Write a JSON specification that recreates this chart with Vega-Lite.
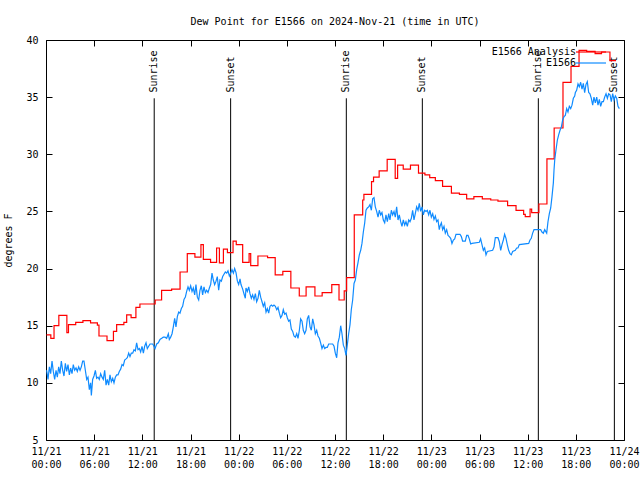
{
  "$schema": "https://vega.github.io/schema/vega-lite/v6.json",
  "width": 578,
  "height": 400,
  "autosize": {"type": "none"},
  "padding": {"left": 46, "top": 40, "right": 16, "bottom": 40},
  "background": "white",
  "view": {"stroke": "black", "strokeWidth": 1},
  "config": {
    "font": "DejaVu Sans Mono",
    "axis": {"labelFont": "DejaVu Sans Mono", "labelFontSize": 10, "labelColor": "black", "titleFont": "DejaVu Sans Mono", "titleFontSize": 10, "titleFontWeight": "normal", "titleColor": "black", "grid": false, "domain": false, "tickColor": "black"}
  },
  "title": {"text": "Dew Point for E1566 on 2024-Nov-21 (time in UTC)", "font": "DejaVu Sans Mono", "fontSize": 10, "fontWeight": "normal", "color": "black", "baseline": "alphabetic", "offset": 0},
  "datasets": {
    "sun": [
      {"h": 13.48, "event": "Sunrise"}, {"h": 23.0, "event": "Sunset"},
      {"h": 37.41, "event": "Sunrise"}, {"h": 46.88, "event": "Sunset"},
      {"h": 61.33, "event": "Sunrise"}, {"h": 70.8, "event": "Sunset"}
    ],
    "analysis": [
      {"h":0.05,"v":14.2},{"h":0.6,"v":13.9},{"h":1.0,"v":15.0},{"h":1.6,"v":15.9},{"h":2.6,"v":14.4},{"h":2.8,"v":15.1},{"h":3.7,"v":15.3},{"h":4.6,"v":15.45},{"h":5.55,"v":15.25},{"h":6.4,"v":15.05},{"h":6.6,"v":14.1},{"h":7.6,"v":13.7},{"h":8.4,"v":14.5},{"h":8.8,"v":15.1},{"h":9.7,"v":15.3},{"h":10.05,"v":15.95},{"h":10.6,"v":15.7},{"h":11.2,"v":16.6},{"h":11.7,"v":16.9},{"h":13.6,"v":17.25},{"h":14.4,"v":18.1},{"h":15.65,"v":18.2},{"h":16.7,"v":19.7},{"h":17.6,"v":21.3},{"h":18.55,"v":21.0},{"h":19.3,"v":22.1},{"h":19.6,"v":20.8},{"h":20.5,"v":20.55},{"h":21.25,"v":21.8},{"h":21.6,"v":20.5},{"h":22.1,"v":21.7},{"h":22.6,"v":21.4},{"h":23.3,"v":22.4},{"h":23.7,"v":22.1},{"h":24.5,"v":20.55},{"h":25.3,"v":21.3},{"h":25.5,"v":20.25},{"h":26.4,"v":21.1},{"h":27.6,"v":20.95},{"h":28.55,"v":19.45},{"h":29.5,"v":19.75},{"h":30.5,"v":18.3},{"h":31.55,"v":17.6},{"h":32.4,"v":18.4},{"h":33.5,"v":17.6},{"h":34.4,"v":17.9},{"h":35.6,"v":18.6},{"h":36.5,"v":17.25},{"h":37.15,"v":18.05},{"h":37.45,"v":19.2},{"h":38.4,"v":24.7},{"h":39.45,"v":26.0},{"h":39.6,"v":26.5},{"h":40.55,"v":27.6},{"h":40.8,"v":28.0},{"h":41.5,"v":28.55},{"h":42.5,"v":29.55},{"h":43.5,"v":27.9},{"h":43.8,"v":29.05},{"h":44.5,"v":28.7},{"h":45.4,"v":29.05},{"h":46.4,"v":28.35},{"h":47.2,"v":28.2},{"h":47.8,"v":27.95},{"h":48.5,"v":27.7},{"h":49.4,"v":27.2},{"h":50.5,"v":26.6},{"h":51.5,"v":26.5},{"h":52.4,"v":26.1},{"h":53.3,"v":26.3},{"h":54.35,"v":26.1},{"h":55.4,"v":26.0},{"h":56.3,"v":25.9},{"h":57.5,"v":25.5},{"h":58.55,"v":25.1},{"h":59.5,"v":24.75},{"h":59.7,"v":24.55},{"h":60.3,"v":25.2},{"h":60.5,"v":24.9},{"h":61.4,"v":25.65},{"h":62.4,"v":29.6},{"h":63.3,"v":32.3},{"h":64.4,"v":36.3},{"h":65.4,"v":37.7},{"h":66.4,"v":39.1},{"h":67.35,"v":39.0},{"h":68.4,"v":38.8},{"h":69.2,"v":38.95},{"h":70.25,"v":38.2},{"h":71.0,"v":38.2}
    ],
    "obs": [
      {"h":0.08,"v":11.1},{"h":0.25,"v":10.3},{"h":0.42,"v":11.4},{"h":0.58,"v":10.8},{"h":0.75,"v":11.9},{"h":0.91,"v":11.0},{"h":1.08,"v":10.3},{"h":1.25,"v":11.1},{"h":1.41,"v":10.5},{"h":1.58,"v":11.4},{"h":1.74,"v":10.8},{"h":1.91,"v":11.9},{"h":2.08,"v":11.1},{"h":2.24,"v":10.6},{"h":2.41,"v":11.7},{"h":2.57,"v":11.0},{"h":2.74,"v":11.6},{"h":2.91,"v":10.7},{"h":3.07,"v":11.3},{"h":3.24,"v":10.8},{"h":3.40,"v":11.6},{"h":3.57,"v":11.1},{"h":3.74,"v":11.3},{"h":3.90,"v":11.0},{"h":4.07,"v":11.4},{"h":4.24,"v":11.1},{"h":4.40,"v":11.4},{"h":4.57,"v":11.9},{"h":4.73,"v":11.9},{"h":4.90,"v":11.1},{"h":5.07,"v":10.3},{"h":5.23,"v":10.5},{"h":5.40,"v":9.4},{"h":5.56,"v":10.0},{"h":5.65,"v":8.9},{"h":5.81,"v":10.3},{"h":5.98,"v":10.6},{"h":6.15,"v":11.1},{"h":6.31,"v":10.4},{"h":6.48,"v":10.5},{"h":6.64,"v":10.3},{"h":6.81,"v":10.8},{"h":6.98,"v":10.5},{"h":7.14,"v":10.3},{"h":7.31,"v":11.1},{"h":7.48,"v":9.8},{"h":7.64,"v":10.3},{"h":7.81,"v":9.8},{"h":7.97,"v":10.7},{"h":8.14,"v":10.1},{"h":8.31,"v":10.4},{"h":8.47,"v":10.0},{"h":8.64,"v":10.5},{"h":8.80,"v":10.7},{"h":8.97,"v":10.7},{"h":9.13,"v":11.0},{"h":9.30,"v":11.2},{"h":9.47,"v":11.6},{"h":9.63,"v":11.5},{"h":9.80,"v":12.0},{"h":9.97,"v":12.1},{"h":10.13,"v":12.2},{"h":10.30,"v":12.6},{"h":10.46,"v":12.3},{"h":10.63,"v":12.6},{"h":10.80,"v":12.6},{"h":10.96,"v":12.9},{"h":11.13,"v":12.8},{"h":11.29,"v":13.5},{"h":11.46,"v":12.9},{"h":11.63,"v":13.0},{"h":11.79,"v":12.7},{"h":11.96,"v":13.2},{"h":12.13,"v":12.6},{"h":12.29,"v":13.2},{"h":12.46,"v":13.5},{"h":12.62,"v":13.0},{"h":12.79,"v":13.2},{"h":12.96,"v":13.4},{"h":13.12,"v":13.4},{"h":13.29,"v":13.4},{"h":13.45,"v":13.2},
      {"h":13.58,"v":13.0},{"h":13.79,"v":13.4},{"h":13.99,"v":13.5},{"h":14.20,"v":13.8},{"h":14.41,"v":13.9},{"h":14.61,"v":14.0},{"h":14.82,"v":14.0},{"h":15.03,"v":13.9},{"h":15.24,"v":14.3},{"h":15.36,"v":13.8},{"h":15.53,"v":14.0},{"h":15.70,"v":14.3},{"h":15.86,"v":14.9},{"h":16.03,"v":15.65},{"h":16.19,"v":14.9},{"h":16.36,"v":15.8},{"h":16.53,"v":16.2},{"h":16.69,"v":16.1},{"h":16.86,"v":16.5},{"h":17.02,"v":16.7},{"h":17.19,"v":17.3},{"h":17.36,"v":17.5},{"h":17.52,"v":18.0},{"h":17.69,"v":18.4},{"h":17.85,"v":18.1},{"h":18.02,"v":18.5},{"h":18.19,"v":18.0},{"h":18.35,"v":18.3},{"h":18.52,"v":17.7},{"h":18.68,"v":18.6},{"h":18.85,"v":17.5},{"h":19.02,"v":17.25},{"h":19.18,"v":18.1},{"h":19.35,"v":18.5},{"h":19.51,"v":17.7},{"h":19.68,"v":18.4},{"h":19.85,"v":17.9},{"h":20.01,"v":18.1},{"h":20.18,"v":17.9},{"h":20.35,"v":18.3},{"h":20.51,"v":18.6},{"h":20.68,"v":19.6},{"h":20.84,"v":19.0},{"h":21.01,"v":18.6},{"h":21.18,"v":18.9},{"h":21.34,"v":19.3},{"h":21.51,"v":18.1},{"h":21.67,"v":19.0},{"h":21.84,"v":18.9},{"h":22.01,"v":19.3},{"h":22.17,"v":19.5},{"h":22.34,"v":19.7},{"h":22.51,"v":19.6},{"h":22.67,"v":19.8},{"h":22.84,"v":19.35},{"h":23.00,"v":19.6},{"h":23.17,"v":19.9},{"h":23.34,"v":19.6},{"h":23.50,"v":20.0},{"h":23.67,"v":19.65},{"h":23.84,"v":18.9},{"h":24.00,"v":18.6},{"h":24.17,"v":19.1},
      {"h":24.29,"v":18.6},{"h":24.50,"v":18.2},{"h":24.66,"v":17.8},{"h":24.83,"v":17.4},{"h":24.91,"v":18.3},{"h":25.08,"v":18.0},{"h":25.25,"v":18.4},{"h":25.41,"v":17.8},{"h":25.58,"v":17.4},{"h":25.74,"v":17.7},{"h":25.91,"v":17.3},{"h":26.08,"v":17.8},{"h":26.24,"v":17.1},{"h":26.41,"v":17.4},{"h":26.57,"v":18.1},{"h":26.74,"v":17.5},{"h":26.91,"v":17.1},{"h":27.07,"v":16.7},{"h":27.24,"v":17.0},{"h":27.41,"v":16.2},{"h":27.57,"v":16.5},{"h":27.74,"v":16.1},{"h":27.90,"v":16.7},{"h":28.07,"v":16.8},{"h":28.24,"v":16.7},{"h":28.40,"v":16.8},{"h":28.57,"v":16.7},{"h":28.74,"v":16.4},{"h":28.90,"v":16.6},{"h":29.07,"v":16.1},{"h":29.23,"v":15.7},{"h":29.40,"v":15.9},{"h":29.56,"v":16.4},{"h":29.73,"v":16.0},{"h":29.90,"v":16.1},{"h":30.06,"v":15.7},{"h":30.23,"v":15.4},{"h":30.39,"v":15.5},{"h":30.56,"v":14.7},{"h":30.73,"v":14.5},{"h":30.89,"v":14.1},{"h":31.06,"v":14.0},{"h":31.23,"v":14.3},{"h":31.39,"v":13.9},{"h":31.56,"v":14.6},{"h":31.72,"v":15.6},{"h":31.89,"v":15.4},{"h":32.05,"v":14.6},{"h":32.22,"v":14.3},{"h":32.39,"v":14.6},{"h":32.55,"v":15.6},{"h":32.72,"v":15.9},{"h":32.89,"v":14.9},{"h":33.05,"v":14.6},{"h":33.22,"v":15.6},{"h":33.38,"v":15.1},{"h":33.55,"v":14.3},{"h":33.72,"v":14.6},{"h":33.88,"v":14.1},{"h":34.05,"v":13.9},{"h":34.21,"v":13.5},{"h":34.38,"v":13.0},{"h":34.55,"v":13.3},{"h":34.71,"v":13.0},{"h":34.88,"v":13.1},{"h":35.04,"v":13.1},{"h":35.21,"v":13.4},{"h":35.38,"v":13.4},{"h":35.54,"v":13.4},{"h":35.71,"v":13.4},{"h":35.88,"v":13.2},{"h":36.04,"v":12.6},{"h":36.21,"v":12.2},{"h":36.37,"v":13.5},{"h":36.54,"v":14.0},{"h":36.71,"v":15.0},{"h":36.87,"v":14.3},{"h":37.04,"v":13.3},{"h":37.21,"v":13.0},{"h":37.37,"v":12.4},{"h":37.53,"v":13.3},{"h":37.70,"v":14.3},{"h":37.87,"v":15.1},{"h":38.03,"v":16.4},
      {"h":38.20,"v":17.25},{"h":38.37,"v":18.7},{"h":38.53,"v":19.0},{"h":38.70,"v":19.9},{"h":38.86,"v":20.5},{"h":39.03,"v":21.2},{"h":39.20,"v":21.6},{"h":39.36,"v":22.2},{"h":39.53,"v":23.2},{"h":39.70,"v":24.0},{"h":39.86,"v":25.1},{"h":40.03,"v":25.3},{"h":40.19,"v":25.4},{"h":40.36,"v":25.6},{"h":40.53,"v":25.1},{"h":40.69,"v":26.1},{"h":40.86,"v":26.2},{"h":41.02,"v":25.4},{"h":41.19,"v":25.0},{"h":41.36,"v":24.5},{"h":41.52,"v":25.1},{"h":41.69,"v":24.7},{"h":41.85,"v":24.9},{"h":42.02,"v":24.25},{"h":42.19,"v":24.0},{"h":42.35,"v":24.7},{"h":42.52,"v":24.1},{"h":42.69,"v":24.8},{"h":42.85,"v":24.25},{"h":43.02,"v":25.1},{"h":43.18,"v":24.7},{"h":43.35,"v":25.0},{"h":43.51,"v":24.5},{"h":43.68,"v":25.4},{"h":43.85,"v":24.25},{"h":44.01,"v":24.7},{"h":44.18,"v":24.1},{"h":44.34,"v":23.7},{"h":44.51,"v":24.25},{"h":44.68,"v":23.8},{"h":44.84,"v":24.1},{"h":45.01,"v":23.7},{"h":45.18,"v":24.25},{"h":45.34,"v":24.1},{"h":45.51,"v":24.4},{"h":45.67,"v":25.1},{"h":45.84,"v":24.25},{"h":46.00,"v":24.8},{"h":46.17,"v":25.4},{"h":46.34,"v":25.1},{"h":46.50,"v":25.7},{"h":46.67,"v":25.0},{"h":46.84,"v":25.4},{"h":47.00,"v":24.7},{"h":47.17,"v":25.1},{"h":47.34,"v":25.0},{"h":47.50,"v":25.1},{"h":47.67,"v":24.7},{"h":47.83,"v":25.1},{"h":48.00,"v":24.5},{"h":48.17,"v":24.8},{"h":48.33,"v":24.3},{"h":48.50,"v":24.6},{"h":48.66,"v":24.1},{"h":48.83,"v":24.25},{"h":48.99,"v":23.4},
      {"h":49.08,"v":23.7},{"h":49.25,"v":24.0},{"h":49.41,"v":23.4},{"h":49.58,"v":23.7},{"h":49.74,"v":23.1},{"h":49.91,"v":23.4},{"h":50.08,"v":22.9},{"h":50.24,"v":22.8},{"h":50.41,"v":22.65},{"h":50.57,"v":22.2},{"h":50.74,"v":22.5},{"h":50.91,"v":22.6},{"h":51.07,"v":23.0},{"h":51.57,"v":23.0},{"h":51.74,"v":22.8},{"h":51.90,"v":22.4},{"h":52.23,"v":22.4},{"h":52.40,"v":22.9},{"h":52.57,"v":22.9},{"h":52.73,"v":22.6},{"h":52.90,"v":22.15},{"h":53.06,"v":22.2},{"h":53.98,"v":22.3},{"h":54.14,"v":22.6},{"h":54.31,"v":22.1},{"h":54.48,"v":21.6},{"h":54.64,"v":21.8},{"h":54.81,"v":21.2},{"h":54.97,"v":21.5},{"h":55.64,"v":21.6},{"h":55.81,"v":21.9},{"h":55.97,"v":22.7},{"h":56.30,"v":22.7},{"h":56.47,"v":22.35},{"h":56.64,"v":21.6},{"h":56.80,"v":22.1},{"h":56.97,"v":22.5},{"h":57.13,"v":23.0},{"h":57.30,"v":22.65},{"h":57.46,"v":22.1},{"h":57.63,"v":21.6},{"h":57.80,"v":21.3},{"h":57.96,"v":21.2},{"h":58.13,"v":21.5},{"h":58.46,"v":21.6},{"h":58.63,"v":21.8},{"h":58.79,"v":21.8},{"h":58.96,"v":22.1},{"h":60.13,"v":22.2},{"h":60.29,"v":22.5},{"h":60.45,"v":22.65},{"h":60.62,"v":23.1},{"h":60.79,"v":23.4},{"h":61.62,"v":23.4},{"h":61.78,"v":23.2},{"h":61.95,"v":23.1},{"h":62.12,"v":23.4},
      {"h":62.37,"v":23.1},{"h":62.53,"v":24.1},{"h":62.70,"v":24.8},{"h":62.87,"v":25.3},{"h":63.03,"v":26.3},{"h":63.20,"v":27.5},{"h":63.28,"v":28.6},{"h":63.37,"v":29.5},{"h":63.53,"v":30.4},{"h":63.70,"v":31.25},{"h":63.86,"v":31.7},{"h":64.03,"v":32.1},{"h":64.20,"v":32.4},{"h":64.36,"v":33.0},{"h":64.53,"v":33.3},{"h":64.69,"v":33.4},{"h":64.86,"v":34.0},{"h":65.02,"v":33.7},{"h":65.19,"v":34.2},{"h":65.36,"v":34.0},{"h":65.52,"v":34.3},{"h":65.69,"v":34.9},{"h":65.86,"v":35.1},{"h":65.94,"v":35.4},{"h":66.10,"v":35.6},{"h":66.27,"v":36.15},{"h":66.43,"v":35.9},{"h":66.60,"v":36.3},{"h":66.77,"v":35.7},{"h":66.93,"v":36.2},{"h":67.10,"v":35.4},{"h":67.26,"v":36.1},{"h":67.43,"v":36.35},{"h":67.60,"v":35.4},{"h":67.76,"v":35.3},{"h":67.93,"v":34.9},{"h":68.10,"v":34.3},{"h":68.26,"v":35.0},{"h":68.43,"v":34.5},{"h":68.60,"v":35.0},{"h":68.76,"v":34.3},{"h":68.93,"v":34.8},{"h":69.09,"v":34.2},{"h":69.26,"v":34.6},{"h":69.43,"v":34.6},{"h":69.59,"v":35.0},{"h":69.76,"v":35.3},{"h":69.93,"v":34.9},{"h":70.09,"v":35.3},{"h":70.26,"v":35.2},{"h":70.42,"v":34.6},{"h":70.59,"v":35.3},{"h":70.76,"v":34.75},{"h":70.92,"v":35.1},{"h":71.09,"v":34.9},{"h":71.25,"v":34.2},{"h":71.42,"v":34.0}
    ]
  },
  "layer": [
    {
      "data": {"name": "sun"},
      "mark": {"type": "rule", "color": "black", "strokeWidth": 1},
      "encoding": {
        "x": {"field": "h", "type": "quantitative", "axis": null},
        "y": {"datum": 5, "type": "quantitative", "axis": null},
        "y2": {"datum": 34.9}
      }
    },
    {
      "data": {"name": "sun"},
      "mark": {"type": "text", "angle": 270, "align": "left", "baseline": "middle", "font": "DejaVu Sans Mono", "fontSize": 10, "color": "black"},
      "encoding": {
        "x": {"field": "h", "type": "quantitative", "axis": null},
        "y": {"datum": 35.4, "type": "quantitative", "axis": null},
        "text": {"field": "event"}
      }
    },
    {
      "data": {"name": "analysis"},
      "mark": {"type": "line", "interpolate": "step-after", "strokeWidth": 1.2},
      "encoding": {
        "x": {"field": "h", "type": "quantitative", "scale": {"domain": [0, 72], "nice": false, "zero": false},
              "axis": {"orient": "bottom", "title": null, "values": [0, 6, 12, 18, 24, 30, 36, 42, 48, 54, 60, 66, 72], "tickSize": -6, "labelPadding": 12, "labelLineHeight": 13, "labelFlush": false,
                       "labelExpr": "['11/' + (21 + floor(datum.value / 24)), (datum.value % 24 < 10 ? '0' : '') + (datum.value % 24) + ':00']"}},
        "y": {"field": "v", "type": "quantitative", "scale": {"domain": [5, 40], "nice": false, "zero": false},
              "axis": {"orient": "left", "title": "degrees F", "values": [5, 10, 15, 20, 25, 30, 35, 40], "tickSize": -6, "labelPadding": 14, "titlePadding": 12, "labelFlush": false}},
        "color": {"datum": "E1566 Analysis", "type": "nominal",
                  "scale": {"domain": ["E1566 Analysis", "E1566"], "range": ["#ff0000", "#0f8bff"]},
                  "legend": {"orient": "none", "legendX": 539, "legendY": 6, "title": null, "symbolType": "M-3,0H3", "symbolSize": 100, "symbolStrokeWidth": 1.2, "labelAlign": "right", "labelOffset": -21, "labelFont": "DejaVu Sans Mono", "labelFontSize": 10, "labelColor": "black", "rowPadding": 0, "padding": 0}}
      }
    },
    {
      "data": {"name": "obs"},
      "mark": {"type": "line", "strokeWidth": 1.2},
      "encoding": {
        "x": {"field": "h", "type": "quantitative",
              "axis": {"orient": "top", "title": null, "values": [0, 6, 12, 18, 24, 30, 36, 42, 48, 54, 60, 66, 72], "tickSize": -6, "labels": false}},
        "y": {"field": "v", "type": "quantitative",
              "axis": {"orient": "right", "title": null, "values": [5, 10, 15, 20, 25, 30, 35, 40], "tickSize": -6, "labels": false}},
        "color": {"datum": "E1566", "type": "nominal"}
      }
    }
  ],
  "resolve": {"axis": {"x": "independent", "y": "independent"}}
}
